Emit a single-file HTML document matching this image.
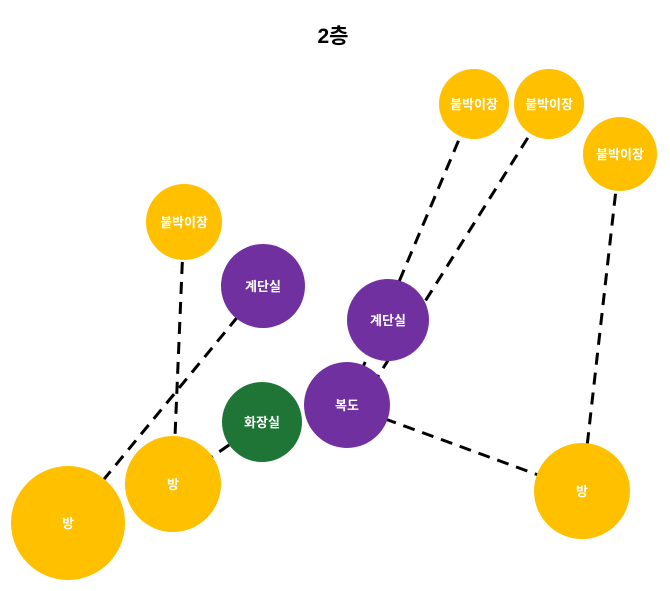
<!DOCTYPE html>
<html><head><meta charset="utf-8"><style>
html,body{margin:0;padding:0;background:#fff;}
svg{display:block;}
text{font-family:"Liberation Sans","Noto Sans CJK KR",sans-serif;font-weight:bold;}
</style></head><body>
<svg width="670" height="591" viewBox="0 0 670 591" xmlns="http://www.w3.org/2000/svg">
<text x="333" y="43" font-size="21" text-anchor="middle" fill="#000">2층</text>
<g stroke="#000" stroke-width="3" stroke-dasharray="12,8" fill="none">
<line x1="474" y1="104" x2="347" y2="405"/>
<line x1="549" y1="104" x2="360" y2="405"/>
<line x1="620" y1="154" x2="582" y2="491"/>
<line x1="184" y1="222" x2="173" y2="484"/>
<line x1="263" y1="286" x2="68" y2="523"/>
<line x1="262" y1="422" x2="173" y2="484"/>
<line x1="347" y1="405" x2="582" y2="491"/>
</g>
<g>
<circle cx="474" cy="104" r="35" fill="#FFC000"/>
<circle cx="549" cy="104" r="35" fill="#FFC000"/>
<circle cx="620" cy="154" r="37" fill="#FFC000"/>
<circle cx="184" cy="222" r="38" fill="#FFC000"/>
<circle cx="263" cy="286" r="42" fill="#7030A0"/>
<circle cx="388" cy="320" r="41" fill="#7030A0"/>
<circle cx="347" cy="405" r="43" fill="#7030A0"/>
<circle cx="262" cy="422" r="40" fill="#1E7535"/>
<circle cx="173" cy="484" r="48" fill="#FFC000"/>
<circle cx="68" cy="523" r="57" fill="#FFC000"/>
<circle cx="582" cy="491" r="48" fill="#FFC000"/>
</g>
<g fill="#fff" font-size="13" text-anchor="middle">
<text x="474" y="109">붙박이장</text>
<text x="549" y="109">붙박이장</text>
<text x="620" y="159">붙박이장</text>
<text x="184" y="227">붙박이장</text>
<text x="263" y="291">계단실</text>
<text x="388" y="325">계단실</text>
<text x="347" y="410">복도</text>
<text x="262" y="427">화장실</text>
<text x="173" y="489">방</text>
<text x="68" y="528">방</text>
<text x="582" y="496">방</text>
</g>
</svg>
</body></html>
